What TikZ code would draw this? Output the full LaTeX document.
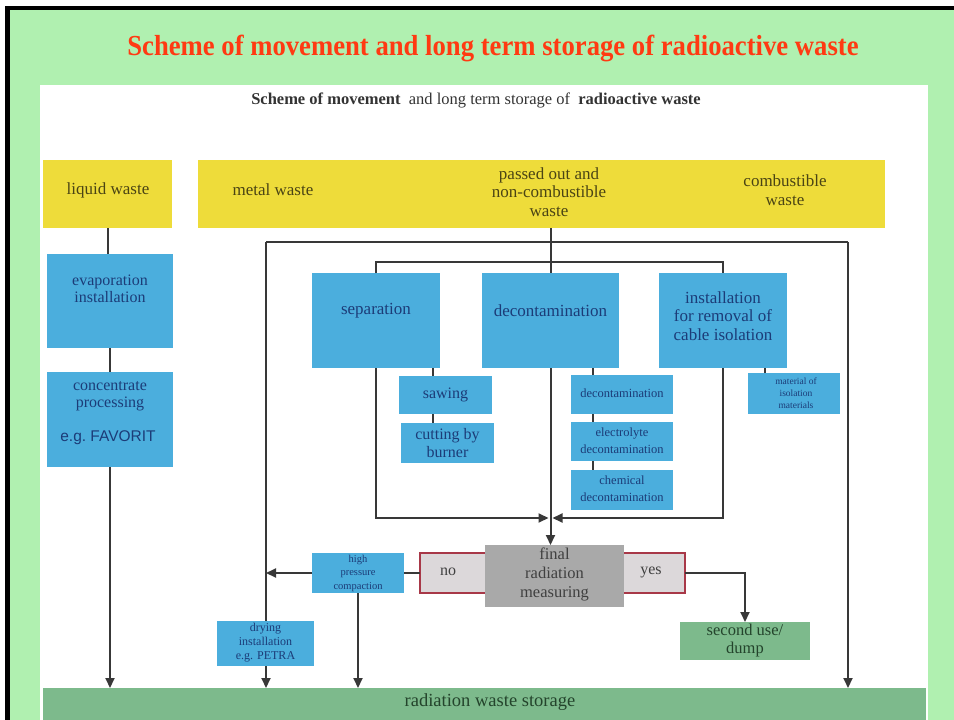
\documentclass[tikz,border=0pt]{standalone}
\usepackage{fontspec}
\setmainfont{Liberation Serif}
\newfontfamily\sansf{Liberation Sans}
\usetikzlibrary{arrows.meta}
\definecolor{bggreen}{HTML}{B0F0B0}
\definecolor{ttlred}{HTML}{FF3A12}
\definecolor{ywaste}{HTML}{EEDC3A}
\definecolor{ytxt}{HTML}{4A4414}
\definecolor{bluebox}{HTML}{4BAEDD}
\definecolor{bluetxt}{HTML}{1C3C78}
\definecolor{storegreen}{HTML}{7DBA8C}
\definecolor{greentxt}{HTML}{24442C}
\definecolor{graymeas}{HTML}{A9A9A9}
\definecolor{nofill}{HTML}{DCD8DA}
\definecolor{noborder}{HTML}{A83848}
\definecolor{linec}{HTML}{383838}
\begin{document}
\begin{tikzpicture}[x=1pt,y=-1pt,
  bx/.style={inner sep=0pt, outer sep=0pt},
  yel/.style={bx, fill=ywaste},
  blu/.style={bx, fill=bluebox},
  grn/.style={bx, fill=storegreen},
  nobx/.style={bx, fill=nofill, draw=noborder, line width=1.8pt},
  meas/.style={bx, fill=graymeas},
  lbl/.style={inner sep=0pt, align=center, font=\fontsize{17}{18.5}\selectfont},
  ylbl/.style={lbl, text=ytxt},
  blbl/.style={lbl, text=bluetxt},
  conn/.style={draw=linec, line width=2pt},
  arr/.style={conn, -{Triangle[length=10pt,width=9pt]}}
]
\useasboundingbox (0,0) rectangle (954,720);
% background and frame
\fill[white] (0,0) rectangle (954,720);
\fill[black] (5,6) rectangle (954,720);
\fill[bggreen] (10,10) rectangle (954,720);
\fill[white] (40,85) rectangle (928,720);

% titles
\node[inner sep=0pt, text=ttlred] (title) at (493,48)
  {\scalebox{0.92}[1]{\fontsize{29}{30}\selectfont\bfseries Scheme of movement and long term storage of radioactive waste}};
\node[inner sep=0pt, text=black!80] (subtitle) at (476,100)
  {\scalebox{1}[1]{\fontsize{16.5}{18}\selectfont\textbf{Scheme of movement}\ \ and long term storage of\ \ \textbf{radioactive waste}}};

% yellow waste boxes
\node[yel, minimum width=129pt, minimum height=68pt] (liq) at (107.5,194) {};
\node[yel, minimum width=687pt, minimum height=68pt] (mainy) at (541.5,194) {};
\node[ylbl] (tliq) at (108,190) {liquid waste};
\node[ylbl] (tmetal) at (273,190) {metal waste};
\node[ylbl] (tpass) at (549,192) {passed out and\\non-combustible\\waste};
\node[ylbl] (tcomb) at (785,190) {combustible\\waste};

% storage
\node[grn, minimum width=883pt, minimum height=36pt] (store) at (484.5,706) {};
\node[lbl, text=greentxt, font=\fontsize{18.5}{20}\selectfont] (tstore) at (490,702) {radiation waste storage};

% loop lines
\coordinate (tl) at (266,242);
\coordinate (tr) at (848,242);
\draw[conn] (tl) -- (tr);
\draw[arr] (tl) -- (tl |- store.north);
\draw[arr] (tr) -- (tr |- store.north);

% left column
\node[blu, minimum width=126pt, minimum height=94pt] (evap) at (110,301) {};
\node[blbl, font=\fontsize{16}{16.5}\selectfont] (tevap) at (110,289) {evaporation\\installation};
\node[blu, minimum width=126pt, minimum height=95pt] (conc) at (110,419.5) {};
\node[blbl, font=\fontsize{16}{17.5}\selectfont] (tconc) at (110,396) {concentrate\\processing};
\node[lbl, text=bluetxt, font=\sansf\fontsize{15.5}{17}\selectfont] (tfav) at (108,438) {e.g.\ FAVORIT};
\draw[conn] (liq.south) -- (liq.south |- evap.north);
\draw[conn] (evap.south) -- (conc.north);
\draw[arr] (conc.south) -- (conc.south |- store.north);

% central column boxes
\node[blu, minimum width=128pt, minimum height=95pt] (sep) at (376,320.5) {};
\node[blbl] (tsep) at (376,311) {separation};
\node[blu, minimum width=137pt, minimum height=95pt] (dec) at (550.5,320.5) {};
\node[blbl] (tdec) at (550.5,311) {decontamination};
\node[blu, minimum width=128pt, minimum height=95pt] (inst) at (723,320.5) {};
\node[blbl] (tinst) at (723,316) {installation\\for removal of\\cable isolation};

\draw[conn] (dec.north |- mainy.south) -- (dec.north);
\draw[conn] (sep.north) -- ++(0,-11) -| (inst.north);

\node[blu, minimum width=93pt, minimum height=38pt] (saw) at (445.5,395) {};
\node[blbl, font=\fontsize{16}{17}\selectfont] (tsaw) at (445.5,395) {sawing};
\node[blu, minimum width=93pt, minimum height=40pt] (cut) at (447.5,443) {};
\node[blbl, font=\fontsize{16}{18.5}\selectfont] (tcut) at (447.5,443) {cutting by\\burner};
\draw[conn] ([xshift=-12.5pt]saw.north) -- ++(0,-8);
\draw[conn] ([xshift=-12.5pt]saw.south) -- ([xshift=-14.5pt]cut.north);

\node[blu, minimum width=102pt, minimum height=39pt] (d1) at (622,394.5) {};
\node[blbl, font=\fontsize{12.5}{17}\selectfont] (td1) at (622,393) {decontamination};
\node[blu, minimum width=102pt, minimum height=39pt] (d2) at (622,441.5) {};
\node[blbl, font=\fontsize{12.5}{17}\selectfont] (td2) at (622,441) {electrolyte\\decontamination};
\node[blu, minimum width=102pt, minimum height=40pt] (d3) at (622,490) {};
\node[blbl, font=\fontsize{12.5}{17}\selectfont] (td3) at (622,489) {chemical\\decontamination};
\draw[conn] ([xshift=-29pt]d1.north) -- ++(0,-7);
\draw[conn] ([xshift=-29pt]d1.south) -- ([xshift=-29pt]d2.north);
\draw[conn] ([xshift=-29pt]d2.south) -- ([xshift=-29pt]d3.north);

\node[blu, minimum width=92pt, minimum height=41pt] (mat) at (794,393.5) {};
\node[blbl, font=\fontsize{9.5}{12}\selectfont] (tmat) at (796,393) {material of\\isolation\\materials};
\draw[conn] ([xshift=-29pt]mat.north) -- ++(0,-5);

% collectors to final measuring
\coordinate (jn) at (550.5,518);
\draw[arr] (sep.south) |- ([xshift=-2pt]jn);
\draw[arr] (inst.south) |- ([xshift=2pt]jn);

% final measuring row
\node[nobx, minimum width=72pt, minimum height=40pt] (no) at (456,573) {};
\node[nobx, minimum width=68pt, minimum height=40pt] (yes) at (651,573) {};
\node[meas, minimum width=139pt, minimum height=62pt] (fin) at (554.5,576) {};
\node[lbl, text=black!75, font=\fontsize{16.5}{19}\selectfont] (tfin) at (554.5,574) {final\\radiation\\measuring};
\node[lbl, text=black!75, font=\fontsize{16}{17}\selectfont] (tno) at (448,572) {no};
\node[lbl, text=black!75, font=\fontsize{16}{17}\selectfont] (tyes) at (651,572) {yes};
\draw[arr] (dec.south) -- (dec.south |- fin.north);

\node[blu, minimum width=92pt, minimum height=40pt] (hpc) at (358,573) {};
\node[blbl, font=\fontsize{10.5}{13.5}\selectfont] (thpc) at (358,573) {high\\pressure\\compaction};
\draw[conn] (no.west) -- (hpc.east);
\draw[arr] (hpc.west) -- (hpc.west -| tl);
\draw[arr] (hpc.south) -- (hpc.south |- store.north);

\node[blu, minimum width=97pt, minimum height=45pt] (dry) at (265.5,643.5) {};
\node[blbl, font=\fontsize{12}{14}\selectfont] (tdry) at (265.5,643) {drying\\installation\\e.g. PETRA};

\node[grn, minimum width=130pt, minimum height=38pt] (sec) at (745,641) {};
\node[lbl, text=greentxt, font=\fontsize{16.5}{18}\selectfont] (tsec) at (745,641) {second use/\\dump};
\draw[arr] (yes.east) -| (sec.north);
\end{tikzpicture}
\end{document}
